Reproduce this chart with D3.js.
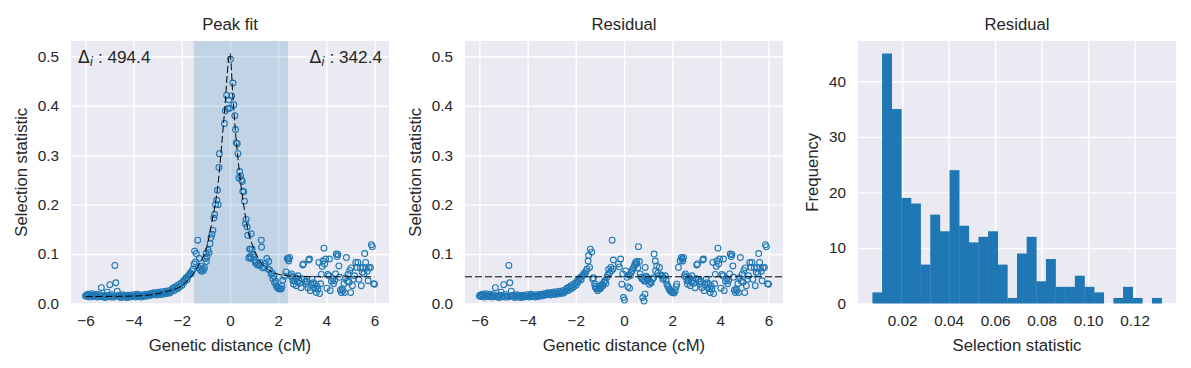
<!DOCTYPE html>
<html>
<head>
<meta charset="utf-8">
<script src="https://cdn.jsdelivr.net/npm/d3@7"></script>
<style>
body { margin: 0; background: #fff; }
text { font-family: "Liberation Sans", Arial, sans-serif; fill: #262626; }
</style>
</head>
<body>
<div id="chart"></div>
<script>
// genetic distance (cM) / selection statistic, left flank (x < -1.5)
const leftX = [
  -6.00,-5.97,-5.93,-5.90,-5.86,-5.82,-5.79,-5.74,-5.70,-5.67,
  -5.62,-5.58,-5.55,-5.50,-5.46,-5.42,-5.38,-5.34,-5.30,-5.26,
  -5.21,-5.17,-5.13,-5.10,-5.05,-5.01,-4.99,-4.94,-4.90,-4.86,
  -4.82,-4.78,-4.74,-4.70,-4.68,-4.63,-4.58,-4.54,-4.50,-4.45,
  -4.41,-4.37,-4.33,-4.28,-4.24,-4.20,-4.16,-4.11,-4.07,-4.03,
  -3.99,-3.94,-3.90,-3.86,-3.82,-3.78,-3.73,-3.69,-3.65,-3.60,
  -3.56,-3.52,-3.48,-3.43,-3.39,-3.35,-3.31,-3.26,-3.22,-3.18,
  -3.14,-3.09,-3.05,-3.01,-2.97,-2.92,-2.88,-2.84,-2.80,-2.75,
  -2.71,-2.67,-2.63,-2.58,-2.54,-2.50,-2.46,-2.41,-2.37,-2.33,
  -2.29,-2.24,-2.20,-2.16,-2.12,-2.08,-2.03,-1.99,-1.95,-1.91,
  -1.86,-1.82,-1.78,-1.74,-1.69,-1.65,-1.61,-1.57,-1.53
];
const leftY = [
  0.015,0.017,0.014,0.019,0.016,0.018,0.013,0.020,0.015,0.017,
  0.014,0.016,0.019,0.013,0.015,0.018,0.014,0.032,0.016,0.013,
  0.015,0.012,0.017,0.023,0.014,0.016,0.038,0.013,0.018,0.015,
  0.013,0.077,0.042,0.016,0.025,0.014,0.017,0.012,0.015,0.018,
  0.013,0.016,0.014,0.012,0.017,0.015,0.013,0.016,0.014,0.018,
  0.015,0.013,0.016,0.019,0.014,0.017,0.015,0.013,0.018,0.016,
  0.014,0.017,0.019,0.015,0.018,0.016,0.020,0.017,0.021,0.018,
  0.022,0.019,0.017,0.021,0.023,0.020,0.018,0.024,0.021,0.019,
  0.022,0.025,0.020,0.023,0.026,0.021,0.024,0.028,0.031,0.026,
  0.033,0.029,0.036,0.031,0.038,0.034,0.041,0.037,0.045,0.043,
  0.049,0.052,0.048,0.055,0.058,0.062,0.060,0.066,0.070
];

// peak region (shaded), raw value and residual
const midX = [
  -1.49,-1.47,-1.43,-1.40,-1.34,-1.30,-1.27,-1.22,-1.18,-1.14,
  -1.10,-1.06,-1.02,-0.99,-0.95,-0.91,-0.87,-0.83,-0.79,-0.75,
  -0.71,-0.67,-0.64,-0.60,-0.55,-0.52,-0.49,-0.46,-0.44,-1.20,
  -0.98,-0.23,-0.19,-0.14,-0.09,-0.05,-0.02,0.02,0.07,0.12,
  0.16,0.20,0.23,0.26,0.30,0.33,0.37,0.40,0.44,0.48,
  0.51,0.53,0.57,0.60,0.64,0.67,0.71,0.74,0.78,0.81,
  0.83,0.85,0.87,0.88,0.92,0.95,0.98,1.02,1.05,1.09,
  1.13,1.18,1.23,1.25,1.30,1.31,1.36,1.41,1.47,1.53,
  1.58,1.61,1.64,1.71,1.75,1.78,1.82,1.85,1.89,1.92,
  1.96,2.00,2.03,2.08,2.13,2.16,2.19,2.26,2.33,2.38
];
const midY = [
  0.080,0.106,0.084,0.101,0.128,0.072,0.091,0.068,0.065,0.070,
  0.067,0.072,0.091,0.101,0.094,0.108,0.103,0.121,0.133,0.140,
  0.148,0.173,0.180,0.200,0.209,0.229,0.200,0.275,0.303,0.075,
  0.085,0.364,0.390,0.421,0.394,0.412,0.395,0.494,0.420,0.446,
  0.402,0.380,0.352,0.325,0.323,0.303,0.254,0.267,0.258,0.250,
  0.247,0.227,0.226,0.207,0.162,0.170,0.155,0.138,0.092,0.110,
  0.095,0.110,0.091,0.141,0.110,0.098,0.094,0.088,0.082,0.084,
  0.078,0.080,0.077,0.083,0.128,0.114,0.072,0.075,0.080,0.091,
  0.070,0.085,0.068,0.059,0.062,0.050,0.055,0.042,0.045,0.036,
  0.033,0.031,0.030,0.029,0.030,0.035,0.047,0.055,0.064,0.091
];
const midResid = [
  0.086,0.097,0.073,0.110,0.104,0.049,0.052,0.040,0.032,0.030,
  0.026,0.029,0.032,0.036,0.034,0.039,0.036,0.043,0.046,0.041,
  0.053,0.058,0.069,0.062,0.073,0.066,0.128,0.070,0.088,0.035,
  0.030,0.080,0.074,0.090,0.039,0.060,0.012,0.007,0.066,0.053,
  0.034,0.058,0.031,0.056,0.063,0.066,0.070,0.073,0.078,0.083,
  0.080,0.085,0.072,0.115,0.085,0.060,0.053,0.050,0.012,0.048,
  0.005,0.045,0.019,0.073,0.055,0.052,0.046,0.050,0.039,0.044,
  0.042,0.049,0.052,0.100,0.086,0.066,0.076,0.062,0.073,0.058,
  0.056,0.049,0.052,0.056,0.047,0.039,0.035,0.032,0.028,0.026,
  0.024,0.022,0.022,0.021,0.026,0.034,0.039,0.073,0.086,0.093
];

// right flank (x > 2.4)
const rightX = [
  2.42,2.44,2.47,2.51,2.55,2.58,2.61,2.64,2.68,2.72,
  2.75,2.79,2.82,2.86,2.90,2.95,2.98,3.02,3.05,3.09,
  3.13,3.16,3.20,3.23,3.27,3.30,3.33,3.37,3.41,3.44,
  3.47,3.51,3.55,3.58,3.62,3.65,3.69,3.72,3.76,3.79,
  3.83,3.86,3.90,3.93,3.97,4.02,4.06,4.11,4.13,4.16,
  4.21,4.26,4.30,4.34,4.38,4.41,4.45,4.48,4.52,4.55,
  4.58,4.62,4.66,4.69,4.73,4.76,4.80,4.83,4.87,4.90,
  4.94,4.97,5.01,5.03,5.08,5.13,5.17,5.22,5.27,5.31,
  5.35,5.41,5.45,5.49,5.52,5.56,5.59,5.63,5.66,5.70,
  5.73,5.77,5.83,5.87,5.91,5.96,6.00
];
const rightY = [
  0.090,0.086,0.093,0.056,0.060,0.053,0.046,0.039,0.046,0.052,
  0.036,0.044,0.056,0.046,0.041,0.032,0.050,0.078,0.080,0.049,
  0.044,0.039,0.045,0.032,0.088,0.090,0.026,0.038,0.049,0.042,
  0.032,0.040,0.030,0.022,0.035,0.029,0.083,0.020,0.040,0.059,
  0.075,0.086,0.112,0.080,0.090,0.031,0.059,0.056,0.090,0.026,
  0.045,0.050,0.040,0.046,0.060,0.100,0.095,0.099,0.076,0.053,
  0.027,0.022,0.030,0.026,0.040,0.022,0.052,0.093,0.045,0.059,
  0.043,0.067,0.022,0.072,0.036,0.049,0.056,0.083,0.073,0.083,
  0.049,0.072,0.036,0.063,0.073,0.060,0.101,0.083,0.072,0.065,
  0.046,0.072,0.073,0.119,0.115,0.040,0.039
];

// fitted peak (dashed)
const fitX = [-6.0,-4.0,-3.0,-2.5,-2.0,-1.75,-1.5,-1.25,-1.0,-0.75,-0.5,-0.25,0.0,
              0.12,0.25,0.4,0.55,0.75,1.0,1.25,1.5,1.8,2.1,2.4,4.0,6.0];
const fitY = [0.014,0.015,0.020,0.026,0.036,0.047,0.062,0.082,0.108,0.165,0.240,0.375,0.506,
              0.418,0.335,0.262,0.205,0.148,0.110,0.086,0.072,0.063,0.058,0.056,0.054,0.054];

const peakSpan = [-1.5, 2.4];
const deltaLeft = '494.4', deltaRight = '342.4';
const residMean = 0.054;

// histogram of residuals
const histMin = 0.0072, histMax = 0.1316;
const histCounts = [2,45,35,19,18,7,16,13,24,14,11,12,13,7,1,9,12,4,8,3,3,5,3,2,0,1,3,1,0,1];

const distTicks = [-6,-4,-2,0,2,4,6];
const statTicks = [0,0.1,0.2,0.3,0.4,0.5];
const histXTicks = [0.02,0.04,0.06,0.08,0.10,0.12];
const histYTicks = [0,10,20,30,40];

const W = 1191, H = 368;
const axTop = 41, axBottom = 303.5, pw = 318, ph = axBottom - axTop;
const blue = '#1f77b4';

const svg = d3.select('#chart').append('svg')
    .attr('width', W)
    .attr('height', H);

function makePanel(left, title, xlab, ylab, x, y, xTicks, yTicks, xFmt, yFmt) {
    const g = svg.append('g').attr('transform', 'translate(' + left + ',' + axTop + ')');
    g.append('rect').attr('width', pw).attr('height', ph).attr('fill', '#eaeaf2');

    g.append('g')
        .attr('transform', 'translate(0,' + ph + ')')
        .call(d3.axisBottom(x).tickValues(xTicks).tickSize(-ph).tickPadding(12).tickFormat(xFmt))
        .call(styleAxis);
    g.append('g')
        .call(d3.axisLeft(y).tickValues(yTicks).tickSize(-pw).tickPadding(12).tickFormat(yFmt))
        .call(styleAxis);

    g.append('text')
        .attr('x', pw / 2).attr('y', -11)
        .attr('text-anchor', 'middle')
        .attr('font-size', 16.7)
        .text(title);
    g.append('text')
        .attr('x', pw / 2).attr('y', ph + 47)
        .attr('text-anchor', 'middle')
        .attr('font-size', 16.7)
        .text(xlab);
    g.append('text')
        .attr('transform', 'translate(' + (ylab == 'Frequency' ? -40 : -44) + ',' + (ph / 2) + ') rotate(-90)')
        .attr('text-anchor', 'middle')
        .attr('font-size', 16.7)
        .text(ylab);
    return g;
}

function styleAxis(a) {
    a.select('.domain').remove();
    a.attr('font-family', null).attr('font-size', null);
    a.selectAll('line').attr('stroke', '#fff').attr('stroke-width', 1.4);
    a.selectAll('text').attr('font-size', 15.3).attr('fill', '#262626');
}

const fmtDist = d3.format('d');
const fmtStat = d3.format('.1f');

// panel 1: peak fit
const x1 = d3.scaleLinear().domain([-6.6, 6.6]).range([0, pw]);
const y1 = d3.scaleLinear().domain([0, 0.531]).range([ph, 0]);
const g1 = makePanel(71, 'Peak fit', 'Genetic distance (cM)', 'Selection statistic',
    x1, y1, distTicks, statTicks, fmtDist, fmtStat);

g1.append('rect')
    .attr('x', x1(peakSpan[0]))
    .attr('width', x1(peakSpan[1]) - x1(peakSpan[0]))
    .attr('y', 0).attr('height', ph)
    .attr('fill', blue).attr('fill-opacity', 0.2);

const peakPts = [];
leftX.forEach((d, i) => peakPts.push([d, leftY[i]]));
midX.forEach((d, i) => peakPts.push([d, midY[i]]));
rightX.forEach((d, i) => peakPts.push([d, rightY[i]]));

g1.append('g').selectAll('circle')
    .data(peakPts)
    .enter()
    .append('circle')
    .attr('cx', d => x1(d[0]))
    .attr('cy', d => y1(d[1]))
    .attr('r', 2.9)
    .attr('fill', 'none')
    .attr('stroke', blue)
    .attr('stroke-width', 1.1);

const fitLine = d3.line()
    .x((d, i) => x1(fitX[i]))
    .y(d => y1(d))
    .curve(d3.curveMonotoneX);
g1.append('path')
    .attr('d', fitLine(fitY))
    .attr('fill', 'none')
    .attr('stroke', '#000')
    .attr('stroke-width', 1)
    .attr('stroke-dasharray', '7,3');

function deltaLabel(g, xpos, anchor, val) {
    const t = g.append('text')
        .attr('x', xpos).attr('y', 22)
        .attr('text-anchor', anchor)
        .attr('font-size', 17.2);
    t.append('tspan').attr('font-family', 'DejaVu Sans').text('\u0394');
    t.append('tspan').attr('font-family', 'DejaVu Sans').attr('font-style', 'italic')
        .attr('font-size', 12).attr('dy', 3).text('i');
    t.append('tspan').attr('dy', -3).text(' : ' + val);
}
deltaLabel(g1, 7, 'start', deltaLeft);
deltaLabel(g1, pw - 7, 'end', deltaRight);

// panel 2: residual
const x2 = d3.scaleLinear().domain([-6.6, 6.6]).range([0, pw]);
const y2 = d3.scaleLinear().domain([0, 0.531]).range([ph, 0]);
const g2 = makePanel(465, 'Residual', 'Genetic distance (cM)', 'Selection statistic',
    x2, y2, distTicks, statTicks, fmtDist, fmtStat);

const residPts = [];
leftX.forEach((d, i) => residPts.push([d, leftY[i]]));
midX.forEach((d, i) => residPts.push([d, midResid[i]]));
rightX.forEach((d, i) => residPts.push([d, rightY[i]]));

g2.append('g').selectAll('circle')
    .data(residPts)
    .enter()
    .append('circle')
    .attr('cx', d => x2(d[0]))
    .attr('cy', d => y2(d[1]))
    .attr('r', 2.9)
    .attr('fill', 'none')
    .attr('stroke', blue)
    .attr('stroke-width', 1.1);

g2.append('line')
    .attr('x1', 0).attr('x2', pw)
    .attr('y1', y2(residMean)).attr('y2', y2(residMean))
    .attr('stroke', '#000')
    .attr('stroke-width', 1)
    .attr('stroke-dasharray', '7,3');

// panel 3: histogram
const x3 = d3.scaleLinear().domain([0.0010, 0.1378]).range([0, pw]);
const y3 = d3.scaleLinear().domain([0, 47.25]).range([ph, 0]);
const g3 = makePanel(858, 'Residual', 'Selection statistic', 'Frequency',
    x3, y3, histXTicks, histYTicks, d3.format('.2f'), d3.format('d'));

const binW = (histMax - histMin) / histCounts.length;
g3.append('g').selectAll('rect')
    .data(histCounts)
    .enter()
    .append('rect')
    .attr('x', (d, i) => x3(histMin + i * binW))
    .attr('width', x3(histMin + binW) - x3(histMin) + 0.3)
    .attr('y', d => y3(d))
    .attr('height', d => ph - y3(d))
    .attr('fill', blue);
</script>
</body>
</html>
